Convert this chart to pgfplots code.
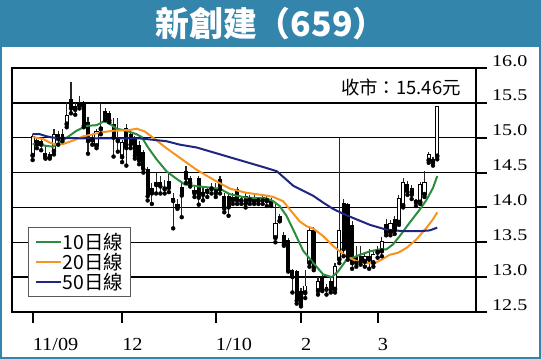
\documentclass[border=0pt]{standalone}
\usepackage{pgfplots}
\pgfplotsset{compat=1.18}
\usepackage{pgfplotstable}
\usepackage{fontspec}
\setmainfont{Liberation Serif}
\newfontfamily\cjk{Noto Sans CJK TC}
\newfontfamily\yfont{Liberation Serif}[FakeStretch=1.22]
\newfontfamily\xfont{Liberation Serif}[FakeStretch=1.1]
\definecolor{banner}{RGB}{51,133,172}
\definecolor{ma10}{RGB}{42,140,60}
\definecolor{ma20}{RGB}{247,148,30}
\definecolor{ma50}{RGB}{30,38,128}

% up (hollow) candles
\pgfplotstableread{
x o h l c
0 14.74 15.05 14.68 15.02
2 14.90 15.00 14.82 14.95
5 14.80 15.12 14.76 15.05
8 15.19 15.51 15.15 15.33
10 15.40 15.50 15.33 15.45
11 15.45 15.60 15.42 15.50
14 14.96 15.05 14.90 15.00
15 14.88 15.12 14.85 15.10
16 15.12 15.50 15.05 15.16
20 14.95 15.28 14.80 15.00
21 14.72 14.97 14.65 14.94
29 14.32 14.50 14.20 14.36
31 14.26 14.40 14.20 14.30
34 14.00 14.12 13.98 14.05
38 14.20 14.30 14.15 14.25
40 14.18 14.30 14.10 14.22
41 14.22 14.30 14.15 14.27
42 14.26 14.35 14.20 14.30
47 14.10 14.20 14.05 14.15
49 14.09 14.15 14.05 14.12
51 14.10 14.18 14.05 14.15
53 14.09 14.15 14.05 14.12
55 14.09 14.16 14.02 14.12
57 13.56 14.07 13.50 13.77
64 12.77 13.10 12.70 12.88
65 13.20 13.72 13.15 13.68
67 12.80 13.00 12.75 12.95
71 12.82 13.20 12.78 13.16
72 13.25 15.00 13.20 13.68
78 13.22 13.35 13.15 13.30
80 13.20 13.38 13.15 13.33
81 13.35 13.45 13.28 13.40
82 13.37 13.57 13.30 13.52
84 13.64 13.82 13.60 13.78
86 13.78 14.18 13.75 14.14
87 14.02 14.42 14.00 14.36
91 14.07 14.36 14.05 14.33
92 14.18 14.52 14.15 14.36
93 14.67 14.80 14.64 14.76
94 14.64 14.72 14.60 14.70
95 14.73 15.46 14.69 15.46
}\upc

% down (filled) candles
\pgfplotstableread{
x o h l c
1 14.97 15.00 14.85 14.90
3 14.78 14.88 14.70 14.72
4 14.77 14.80 14.70 14.71
6 15.05 15.10 14.90 14.98
7 15.05 15.12 14.95 14.99
9 15.56 15.80 15.35 15.42
12 15.51 15.53 15.15 15.17
13 15.22 15.30 14.77 14.95
17 15.39 15.42 15.25 15.28
18 15.35 15.38 15.22 15.25
19 15.19 15.28 14.73 15.00
22 15.14 15.20 14.60 14.85
23 15.05 15.10 14.85 14.90
24 14.98 15.02 14.70 14.74
25 14.90 14.95 14.62 14.67
26 14.79 14.82 14.50 14.55
27 14.55 14.58 14.10 14.16
28 14.28 14.35 14.05 14.20
30 14.36 14.45 14.20 14.30
32 14.38 14.50 14.22 14.28
33 14.14 14.20 13.70 14.09
35 14.30 14.35 13.86 14.17
36 14.52 14.60 14.35 14.42
37 14.42 14.45 14.30 14.35
39 14.42 14.45 14.04 14.14
43 14.27 14.35 14.15 14.20
44 14.41 14.45 14.20 14.26
45 14.17 14.20 13.93 13.98
46 14.16 14.20 13.88 14.00
48 14.27 14.30 14.05 14.10
50 14.16 14.20 14.00 14.05
52 14.15 14.20 14.05 14.08
54 14.15 14.18 14.05 14.10
56 14.10 14.14 14.02 14.05
58 13.87 13.90 13.80 13.81
59 13.61 13.65 13.45 13.47
60 13.54 13.56 13.08 13.10
61 13.10 13.12 12.78 13.00
62 13.09 13.10 12.62 12.66
63 12.80 12.85 12.58 12.60
66 13.68 13.72 13.10 13.13
68 13.00 13.05 12.80 12.82
69 12.86 12.90 12.75 12.82
70 12.95 13.00 12.78 12.82
73 14.07 14.12 13.30 13.40
74 14.05 14.07 13.25 13.30
75 13.75 13.80 13.12 13.20
76 13.30 13.45 13.15 13.20
77 13.30 13.45 13.18 13.22
79 13.30 13.40 13.12 13.25
83 13.76 13.84 13.60 13.64
85 13.84 13.88 13.62 13.67
88 14.34 14.38 14.18 14.22
89 14.28 14.32 14.12 14.18
90 14.10 14.12 14.02 14.07
}\dnc

\begin{document}
\begin{tikzpicture}
\useasboundingbox (0bp,0bp) rectangle (541bp,-359bp);
\fill[banner] (0bp,0bp) rectangle (541bp,-47bp);
\draw[banner, line width=2bp] (1bp,-1bp) rectangle (540bp,-358bp);
\node[text=white, font=\cjk\bfseries\fontsize{34}{36}\selectfont, inner sep=0pt] at (271bp,-24bp) {新創建（659）};
\begin{axis}[
  at={(12bp,-312bp)}, anchor=south west,
  scale only axis, width=464bp, height=244bp,
  xmin=-4.85, xmax=104.1, ymin=12.5, ymax=16,
  axis line style={line width=2bp, black},
  xtick={0,21,43,63,81},
  xticklabels={11/09,12,1/10,2,3},
  ytick={12.5,13,13.5,14,14.5,15,15.5,16},
  yticklabels={12.5,13.0,13.5,14.0,14.5,15.0,15.5,16.0},
  xtick pos=left, ytick pos=right,
  xticklabel pos=left, yticklabel pos=right,
  tick align=outside, major tick length=11bp,
  tick style={line width=2bp, black},
  ymajorgrids, grid style={line width=1.4bp, black},
  xticklabel style={font=\xfont\fontsize{18.5}{20}\selectfont, anchor=north west, inner sep=0pt, yshift=-15bp},
  yticklabel style={font=\yfont\fontsize{16.5}{18}\selectfont, anchor=base west, inner sep=0pt, xshift=5bp, yshift=2bp},
  legend style={at={(0.0345,0.0615)}, anchor=south west, draw=black!65, line width=1bp, fill=white,
    inner xsep=6bp, inner ysep=4bp, font=\cjk\fontsize{19.5}{21}\selectfont,
    nodes={inner sep=1.2bp}, /tikz/every even column/.append style={column sep=8bp}},
  legend cell align=left,
  legend image code/.code={\draw[#1] (0bp,0bp) -- (25bp,0bp);},
]
% wicks
\addplot[forget plot, only marks, mark=none, error bars/.cd, y dir=plus, y explicit, error mark=none,
  error bar style={line width=1.1bp, color=black!85}]
  table[x=x, y=l, y error expr=\thisrow{h}-\thisrow{l}] {\dnc};
\addplot[forget plot, only marks, mark=none, error bars/.cd, y dir=plus, y explicit, error mark=none,
  error bar style={line width=1.1bp, color=black!85}]
  table[x=x, y=l, y error expr=\thisrow{h}-\thisrow{l}] {\upc};
% filled bodies
\addplot[forget plot, only marks, mark=none, error bars/.cd, y dir=plus, y explicit, error mark=none,
  error bar style={line width=3.9bp, color=black}]
  table[x=x, y=c, y error expr=\thisrow{o}-\thisrow{c}] {\dnc};
% hollow bodies
\addplot[forget plot, only marks, mark=none, error bars/.cd, y dir=plus, y explicit, error mark=none,
  error bar style={line width=4.2bp, color=black}]
  table[x=x, y=o, y error expr=\thisrow{c}-\thisrow{o}] {\upc};
\addplot[forget plot, only marks, mark=none, error bars/.cd, y dir=plus, y explicit, error mark=none,
  error bar style={line width=2.3bp, color=white}]
  table[x=x, y expr=\thisrow{o}+0.013, y error expr=\thisrow{c}-\thisrow{o}-0.026] {\upc};
% moving averages
\addplot[ma10, line width=2bp] coordinates {(0,14.91) (2.5,14.89) (4.8,14.87) (8,15.0) (10.3,15.1) (12.7,15.17) (15,15.18) (16.9,15.24) (18.1,15.2) (19.7,15.13) (22,15.1) (24.4,15.05) (25.6,15.01) (27.1,14.86) (29.1,14.69) (31.4,14.52) (33.8,14.41) (35.7,14.33) (39.2,14.3) (43.9,14.27) (46.3,14.19) (50.2,14.14) (54.9,14.13) (56.5,14.09) (58,14.02) (59.6,13.88) (61.5,13.64) (63.5,13.38) (65.8,13.21) (68.2,13.04) (70.2,13.0) (71.7,13.08) (73.7,13.25) (75.2,13.28) (76.8,13.32) (79.2,13.37) (81.5,13.4) (83.1,13.4) (84.6,13.47) (86.2,13.59) (88.5,13.78) (90.9,13.97) (92.5,14.11) (94,14.28) (95,14.45)};
\addlegendentry{10日線}
\addplot[ma20, line width=2bp] coordinates {(0,15.01) (2.5,14.98) (4,14.93) (5.6,14.9) (7.2,14.91) (9.5,14.96) (11.9,15.02) (14.2,15.05) (16.5,15.08) (18.9,15.1) (22.8,15.11) (24.4,15.13) (26.3,15.09) (28.3,15.0) (31.4,14.85) (34.6,14.71) (36.9,14.61) (38.5,14.54) (42.4,14.4) (46.3,14.27) (50.2,14.21) (54.9,14.17) (56.5,14.15) (58.8,14.09) (60.4,13.97) (62.7,13.8) (64.3,13.73) (65.8,13.7) (68.2,13.59) (70.5,13.45) (72.1,13.37) (73.7,13.3) (76,13.23) (78.4,13.2) (80.3,13.2) (81.9,13.25) (83.8,13.32) (85.8,13.35) (87.8,13.42) (90.1,13.54) (92.5,13.71) (94,13.83) (95,13.93)};
\addlegendentry{20日線}
\addplot[ma50, line width=2bp] coordinates {(0,15.05) (1.7,15.05) (3.3,15.02) (4.8,15.0) (12.7,14.99) (20.5,14.99) (25.2,14.99) (28.3,14.97) (31.4,14.95) (34.6,14.9) (38.5,14.86) (42.4,14.79) (46.3,14.72) (50.2,14.65) (54.1,14.58) (57.3,14.52) (58.8,14.44) (61.2,14.31) (63.5,14.24) (65.8,14.17) (68.2,14.07) (70.5,13.98) (72.9,13.91) (75.2,13.85) (79.2,13.75) (83.1,13.68) (87,13.66) (90.9,13.66) (93.2,13.67) (95,13.71)};
\addlegendentry{50日線}
\end{axis}
\node[anchor=east, font=\cjk\fontsize{18.5}{20}\selectfont, inner sep=0pt] at (461bp,-87bp) {收市：15.46元};
\end{tikzpicture}
\end{document}
